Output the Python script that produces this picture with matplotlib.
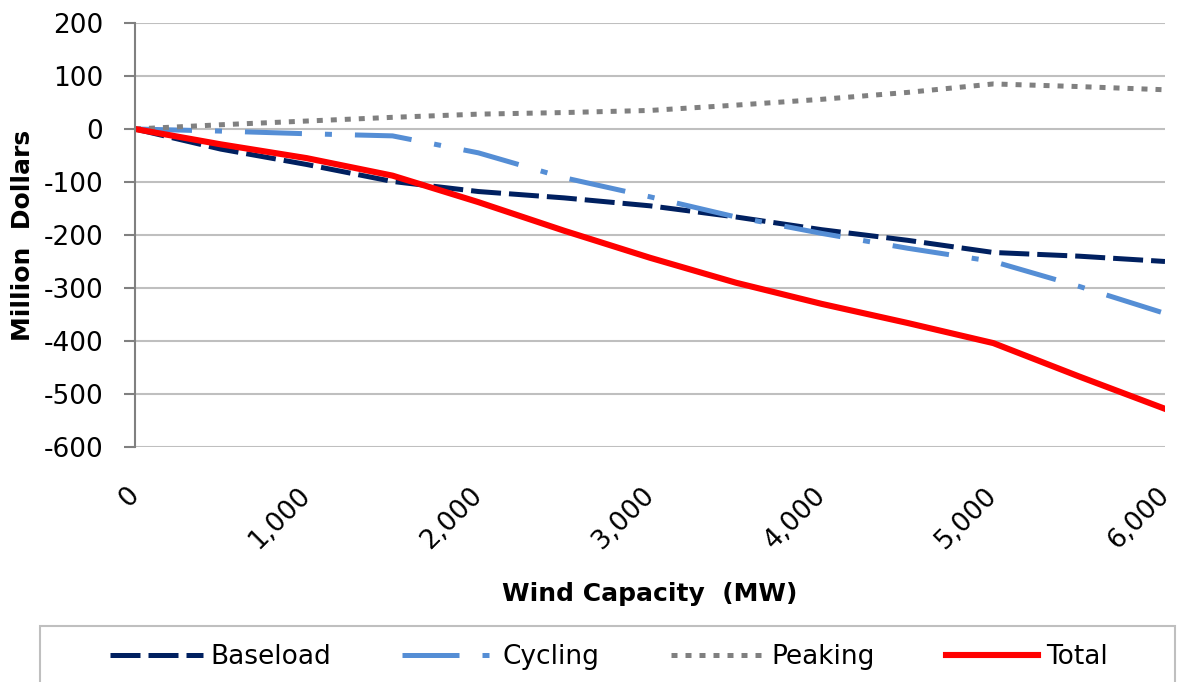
import matplotlib
matplotlib.use("Agg")
import matplotlib.pyplot as plt
from matplotlib.patches import Rectangle

plt.rcParams["font.family"] = ["DejaVu Sans"]

wind_mw = [0, 500, 1000, 1500, 2000, 2500, 3000, 3500, 4000, 4500, 5000, 5500, 6000]
baseload = [0, -38, -67, -99, -118, -130, -145, -166, -190, -210, -233, -240, -250]
cycling = [0, -4, -9, -13, -45, -92, -128, -166, -197, -225, -250, -297, -348]
peaking = [0, 8, 15, 22, 28, 31, 35, 45, 56, 69, 85, 80, 74]
total = [0, -29, -55, -88, -138, -192, -243, -290, -330, -366, -404, -467, -528]

y_ticks = list(range(-600, 201, 100))
x_ticks = list(range(0, 6001, 1000))
x_labels = [f"{v:,}" for v in x_ticks]

fig = plt.figure(figsize=(11.77, 6.82), dpi=100)
ax = fig.add_axes([0.1147, 0.3446, 0.8751, 0.6217])

ax.plot(wind_mw, baseload, color="#002060", lw=3.6, dashes=(6.0, 1.6),
        dash_capstyle="butt", label="Baseload")
ax.plot(wind_mw, cycling, color="#558ED5", lw=3.6, dashes=(11.4, 4.6, 1.4, 4.6),
        dash_capstyle="butt", label="Cycling")
ax.plot(wind_mw, peaking, color="#808080", lw=3.6, dashes=(1.2, 1.6),
        dash_capstyle="butt", label="Peaking")
ax.plot(wind_mw, total, color="#FF0000", lw=4.4, label="Total")

ax.set_xlim(0, 6000)
ax.set_ylim(-600, 200)
ax.set_yticks(y_ticks)
ax.set_yticklabels([str(v) for v in y_ticks])
ax.set_xticks(x_ticks)
ax.set_xticklabels(x_labels, rotation=45, ha="right", va="center",
                   rotation_mode="anchor")
ax.grid(axis="y", color="#BFBFBF", lw=1.5)
ax.set_axisbelow(True)

for s in ["top", "right", "bottom"]:
    ax.spines[s].set_visible(False)
ax.spines["left"].set_color("#808080")
ax.spines["left"].set_linewidth(1.5)
ax.tick_params(axis="y", length=8, width=1.5, color="#808080", labelsize=19, pad=15)
ax.tick_params(axis="x", length=0, labelsize=19, pad=32)

ax.set_ylabel("Million  Dollars", fontsize=18, fontweight="bold", labelpad=6)
ax.set_xlabel("Wind Capacity  (MW)", fontsize=18, fontweight="bold", labelpad=20)

# legend box runs past the bottom edge of the figure, like the original
fig.add_artist(Rectangle((40 / 1177, -0.1), 1135 / 1177, 0.1 + 56 / 682,
                         transform=fig.transFigure, fill=False,
                         edgecolor="#BFBFBF", lw=1.5))
fig.legend(loc="center", bbox_to_anchor=(609 / 1177, 25 / 682), ncol=4,
           fontsize=19, frameon=False, handlelength=3.5, handletextpad=0.3,
           columnspacing=2.7, borderaxespad=0)

fig.savefig("out.png", dpi=100)
